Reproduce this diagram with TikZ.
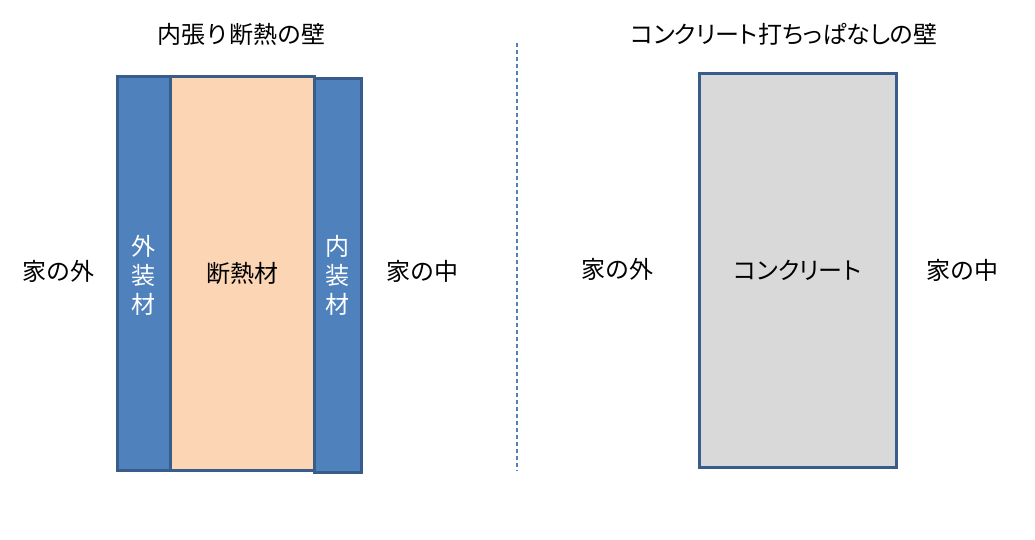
\documentclass[tikz,border=0pt]{standalone}
\usepackage{fontspec}
\newfontfamily\jp{Noto Sans CJK JP}
\newfontfamily\jpprop[RawFeature=+palt]{Noto Sans CJK JP}
\usetikzlibrary{positioning}
\definecolor{wallblue}{HTML}{4F81BD}
\definecolor{wallline}{HTML}{385D8A}
\definecolor{insulpeach}{HTML}{FCD5B5}
\definecolor{concgray}{HTML}{D9D9D9}
\tikzset{
	panel/.style={draw=wallline, line width=3pt, inner sep=0pt, minimum height=393pt},
	paneltext/.style={align=center, inner sep=0pt, font=\jp\fontsize{24}{29}\selectfont},
	sidetext/.style={font=\jp\fontsize{24}{28}\selectfont, inner sep=0pt},
	divider/.style={draw=wallblue, line width=1.2pt, dash pattern=on 4pt off 3pt}
}
\begin{document}
\begin{tikzpicture}[x=1pt, y=-1pt]
			%%%%% START %%%%%
			\useasboundingbox (0, 0) rectangle (1035, 540);
			
			% inner insulation wall
			\node[sidetext] (title1) at (241.5, 34) {内張り断熱の壁};
			\node[panel, fill=wallblue, minimum width=53pt] (gaisou) at (143.5, 273.5) {};
			\node[panel, fill=insulpeach, minimum width=144pt] (dannetsu) at (242, 273.5) {};
			\node[panel, fill=wallblue, minimum width=47pt] (naisou) at (337.5, 275.5) {};
			\node[paneltext, text=white] (gaisoutext) at ([yshift=-2pt]gaisou.center) {外\\装\\材};
			\node[paneltext] (dannetsutext) at (dannetsu.center) {断熱材};
			\node[paneltext, text=white] (naisoutext) at ([yshift=0pt]naisou.center) {内\\装\\材};
			\node[sidetext] (outside1) at (58, 271) {家の外};
			\node[sidetext] (inside1) at (422, 271) {家の中};
			
			% divider
			\coordinate (divtop) at (517, 43);
			\coordinate (divbot) at (517, 471);
			\draw[divider] (divtop) -- (divbot);
			
			% bare concrete wall
			\node[sidetext, font=\jpprop\fontsize{24}{28}\selectfont] (title2) at (784, 34) {コンクリート打ちっぱなしの壁};
			\node[panel, fill=concgray, minimum width=197pt] (concrete) at (797.5, 270.5) {};
			\node[paneltext, font=\jpprop\fontsize{24}{28}\selectfont] (concretetext) at (concrete.center) {コンクリート};
			\node[sidetext] (outside2) at (617.5, 269) {家の外};
			\node[sidetext] (inside2) at (962, 270) {家の中};
			
			%%%%% END %%%%%
\end{tikzpicture}
\end{document}
